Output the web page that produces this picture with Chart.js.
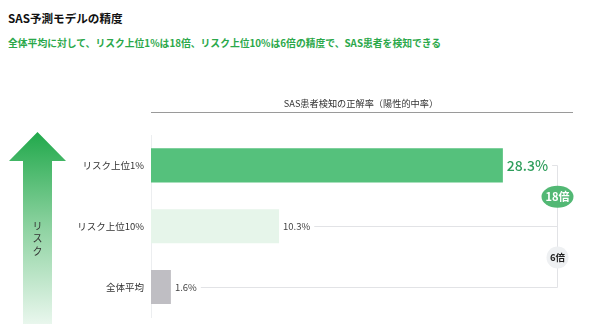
<!DOCTYPE html>
<html>
<head>
<meta charset="utf-8">
<script src="https://cdn.jsdelivr.net/npm/chart.js@4"></script>
<style>
body { margin:0; background:#fff; font-family:"Noto Sans CJK JP","Noto Sans",sans-serif; }
#wrap { position:relative; width:600px; height:330px; }
#title { position:absolute; left:8px; top:10px; font-size:11.6px; font-weight:bold; color:#111; }
#sub { position:absolute; left:8px; top:36px; font-size:9.8px; font-weight:bold; color:#2ba84a; }
canvas { position:absolute; left:0; top:0; }
</style>
</head>
<body>
<div id="wrap">
<div id="title">SAS予測モデルの精度</div>
<div id="sub">全体平均に対して、リスク上位1%は18倍、リスク上位10%は6倍の精度で、SAS患者を検知できる</div>
<canvas id="c" width="600" height="330"></canvas>
</div>
<script>
// data
let groups = ["リスク上位1%", "リスク上位10%", "全体平均"];
let rates = [28.3, 10.3, 1.6];
let barColors = ["#55c17c", "#e6f5ea", "#bfbec3"];
let ratios = ["18倍", "6倍"];
let header = "SAS患者検知の正解率（陽性的中率）";

const font = '"Noto Sans CJK JP","Noto Sans",sans-serif';

//draws header, value labels, connector lines, badges and the risk arrow
const extras = {
  id: "extras",
  afterDatasetsDraw(chart) {
    const ctx = chart.ctx;
    const area = chart.chartArea;
    const bars = chart.getDatasetMeta(0).data;
    ctx.save();

    // header + rule
    ctx.fillStyle = "#333";
    ctx.font = "9.2px " + font;
    ctx.textAlign = "center";
    ctx.textBaseline = "middle";
    ctx.fillText(header, 361, 104);
    ctx.strokeStyle = "#9a9a9a";
    ctx.lineWidth = 1;
    ctx.beginPath();
    ctx.moveTo(area.left, 112.5);
    ctx.lineTo(573, 112.5);
    ctx.stroke();

    // value labels and connectors
    let lineX = 557.5;
    ctx.textAlign = "left";
    let ends = [];
    bars.forEach((b, i) => {
      if (i == 0) {
        ctx.font = "500 14px " + font;
        ctx.fillStyle = "#2f9e5c";
      } else {
        ctx.font = "9.5px " + font;
        ctx.fillStyle = "#444";
      }
      let txt = rates[i] + "%";
      ctx.fillText(txt, b.x + 4, b.y);
      ends.push(b.x + 4 + ctx.measureText(txt).width + 4);
    });
    ctx.strokeStyle = "#e2e3e6";
    ctx.beginPath();
    bars.forEach((b, i) => {
      ctx.moveTo(ends[i], Math.round(b.y) + 0.5);
      ctx.lineTo(lineX, Math.round(b.y) + 0.5);
    });
    ctx.moveTo(lineX, Math.round(bars[0].y) + 0.5);
    ctx.lineTo(lineX, Math.round(bars[2].y) + 0.5);
    ctx.stroke();

    // ratio badges
    let y1 = (bars[0].y + bars[1].y) / 2 + 1;
    let y2 = (bars[1].y + bars[2].y) / 2 + 1;
    ctx.fillStyle = "#52b874";
    ctx.beginPath();
    ctx.ellipse(lineX, y1, 16, 11, 0, 0, Math.PI * 2);
    ctx.fill();
    ctx.fillStyle = "#fff";
    ctx.font = "bold 11px " + font;
    ctx.textAlign = "center";
    ctx.fillText(ratios[0], lineX, y1);
    ctx.fillStyle = "#eef0f2";
    ctx.beginPath();
    ctx.arc(lineX, y2, 11, 0, Math.PI * 2);
    ctx.fill();
    ctx.fillStyle = "#222";
    ctx.font = "bold 9.5px " + font;
    ctx.fillText(ratios[1], lineX, y2);

    // risk arrow
    let g = ctx.createLinearGradient(0, 133, 0, 325);
    g.addColorStop(0, "#22a94c");
    g.addColorStop(0.5, "#8fd3a2");
    g.addColorStop(1, "#eaf7ee");
    ctx.fillStyle = g;
    ctx.beginPath();
    ctx.moveTo(37.5, 132);
    ctx.lineTo(66, 161);
    ctx.lineTo(52, 161);
    ctx.lineTo(52, 324);
    ctx.lineTo(23, 324);
    ctx.lineTo(23, 161);
    ctx.lineTo(9, 161);
    ctx.closePath();
    ctx.fill();
    ctx.fillStyle = "#333";
    ctx.font = "10px " + font;
    ["リ", "ス", "ク"].forEach((ch, i) => ctx.fillText(ch, 37.5, 226 + i * 12.5));

    ctx.restore();
  }
};

new Chart(document.getElementById("c"), {
  type: "bar",
  data: {
    labels: groups,
    datasets: [{
      data: rates,
      backgroundColor: barColors,
      categoryPercentage: 1,
      barPercentage: 0.56
    }]
  },
  options: {
    indexAxis: "y",
    responsive: false,
    animation: false,
    layout: { padding: { top: 135, right: 76, bottom: 5, left: 0 } },
    plugins: { legend: { display: false }, tooltip: { enabled: false } },
    scales: {
      x: { min: 0, max: 30, display: false },
      y: {
        afterFit: (s) => { s.width = 151; },
        grid: { display: false, tickLength: 0 },
        border: { display: true, color: "#eceef0" },
        ticks: { color: "#333", padding: 7, font: { size: 9.5, family: font } }
      }
    }
  },
  plugins: [extras]
});
</script>
</body>
</html>
